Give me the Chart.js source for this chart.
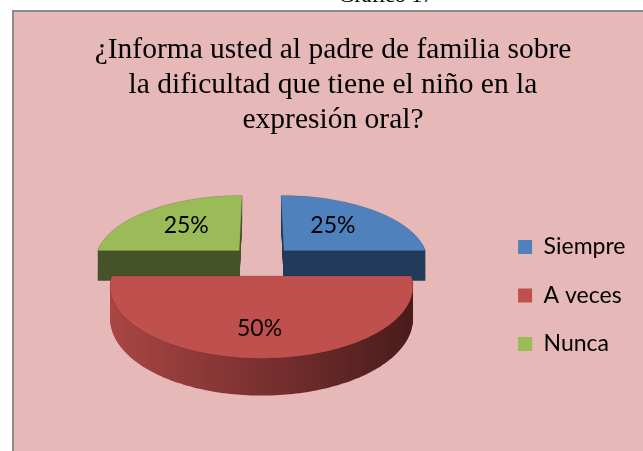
<!DOCTYPE html>
<html>
<head>
<meta charset="utf-8">
<script src="https://cdn.jsdelivr.net/npm/chart.js@4.4.1/dist/chart.umd.min.js"></script>
<style>
  html, body { margin: 0; padding: 0; background: #fff; overflow: hidden; width: 643px; height: 451px; }
  #caption { position: absolute; left: 286px; top: -16px; width: 200px; text-align: center;
             font: 22px/22px 'Liberation Serif', serif; color: #000; }
  #frame { position: absolute; left: 12px; top: 10px; width: 680px; height: 480px;
           border: 2px solid #8c8c8c; background: #e6b9b8; }
  #chart { position: absolute; left: 0; top: 0; }
</style>
</head>
<body>
<div id="caption">Gráfico 17</div>
<div id="frame"><canvas id="chart" width="629" height="439"></canvas></div>
<script>
const titleLines = [
  '¿Informa usted al padre de familia sobre',
  'la dificultad que tiene el niño en la',
  'expresión oral?'
];
const labels = ['Siempre', 'A veces', 'Nunca'];
const values = [25, 50, 25];

const topColors = ['#4f81bd', '#c0504d', '#9bbb59'];
const sideColors = [['#233b5a', '#233b5a'], ['#a94644', '#4a1b1b'], ['#46522a', '#46522a']];

// fake 3D pie: reads angles/radius/offset from the arc elements, projects them with a bit of perspective
const pie3d = {
  id: 'pie3d',
  beforeDatasetsDraw(chart, args, opts) {
    const arcs = chart.getDatasetMeta(0).data;
    if (!arcs.length) return false;
    const ctx = chart.ctx;
    const R = arcs[0].outerRadius;
    const D = R * opts.distance;
    const H = opts.depth;
    const k = opts.tilt;
    const proj = (u, v, z) => {
      const p = D / (D - v);
      return [u * p, k * v * p + z * p];
    };

    const slices = arcs.map((el, i) => {
      const mid = (el.startAngle + el.endAngle) / 2;
      const off = el.options.offset || 0;
      const cu = Math.cos(mid) * off, cv = Math.sin(mid) * off;
      const pts = [[cu, cv]];
      const n = Math.ceil((el.endAngle - el.startAngle) / 0.02);
      for (let j = 0; j <= n; j++) {
        const a = el.startAngle + (el.endAngle - el.startAngle) * j / n;
        pts.push([cu + R * Math.cos(a), cv + R * Math.sin(a)]);
      }
      return { el, i, mid, cu, cv, pts, span: el.endAngle - el.startAngle };
    });

    // centre the whole projected solid on the chart area centre
    let x0 = Infinity, x1 = -Infinity, y0 = Infinity, y1 = -Infinity;
    slices.forEach(s => s.pts.forEach(([u, v]) => [0, H].forEach(z => {
      const [x, y] = proj(u, v, z);
      x0 = Math.min(x0, x); x1 = Math.max(x1, x);
      y0 = Math.min(y0, y); y1 = Math.max(y1, y);
    })));
    const ox = arcs[0].x - (x0 + x1) / 2;
    const oy = arcs[0].y - (y0 + y1) / 2;

    const path = (pts, z) => {
      ctx.beginPath();
      pts.forEach(([u, v], j) => {
        const [x, y] = proj(u, v, z);
        if (j) ctx.lineTo(ox + x, oy + y); else ctx.moveTo(ox + x, oy + y);
      });
      ctx.closePath();
    };

    ctx.save();
    slices.slice().sort((a, b) => a.cv - b.cv).forEach(s => {
      let sx0 = Infinity, sx1 = -Infinity;
      s.pts.forEach(([u, v]) => {
        const x = proj(u, v, 0)[0];
        sx0 = Math.min(sx0, x); sx1 = Math.max(sx1, x);
      });
      const [c0, c1] = opts.sideColors[s.i];
      const g = ctx.createLinearGradient(ox + sx0, 0, ox + sx1, 0);
      g.addColorStop(0, c0);
      g.addColorStop(1, c1);
      ctx.fillStyle = g;
      for (let z = H; z > 0; z -= 1) {
        path(s.pts, z);
        ctx.fill();
      }
      path(s.pts, 0);
      ctx.fillStyle = s.el.options.backgroundColor;
      ctx.fill();
      ctx.strokeStyle = 'rgba(0,0,0,0.12)';
      ctx.lineWidth = 1;
      ctx.stroke();
    });

    // percentage labels on the top faces
    const data = chart.data.datasets[0].data;
    const total = data.reduce((a, b) => a + b, 0);
    ctx.fillStyle = '#000';
    ctx.font = opts.labelFont;
    ctx.textAlign = 'center';
    ctx.textBaseline = 'middle';
    slices.forEach(s => {
      const r = R * (0.4 + 0.3 * s.span / Math.PI);
      const [x, y] = proj(s.cu + r * Math.cos(s.mid), s.cv + r * Math.sin(s.mid), 0);
      ctx.fillText(Math.round(data[s.i] / total * 100) + '%', ox + x - 2, oy + y - 2);
    });
    ctx.restore();
    return false;
  }
};

new Chart(document.getElementById('chart'), {
  type: 'pie',
  data: {
    labels: labels,
    datasets: [{
      data: values,
      backgroundColor: topColors,
      borderWidth: 0,
      offset: 32
    }]
  },
  options: {
    responsive: false,
    animation: false,
    events: [],
    radius: 145,
    layout: { padding: { left: 16.5, top: 0, right: 7.5, bottom: 0 } },
    plugins: {
      title: {
        display: true,
        text: titleLines,
        color: '#000',
        font: { family: 'Liberation Serif', size: 29.5, weight: 'normal', lineHeight: '35px' },
        padding: { top: 21, bottom: 2 }
      },
      legend: {
        position: 'right',
        fullSize: false,
        labels: {
          boxWidth: 14,
          boxHeight: 14,
          padding: 25.5,
          color: '#000',
          font: { family: 'Lato', size: 23 }
        }
      },
      tooltip: { enabled: false },
      pie3d: {
        distance: 7,
        tilt: 0.455,
        depth: 30.7,
        sideColors: sideColors,
        labelFont: '23px Lato'
      }
    }
  },
  plugins: [pie3d]
});
</script>
</body>
</html>
